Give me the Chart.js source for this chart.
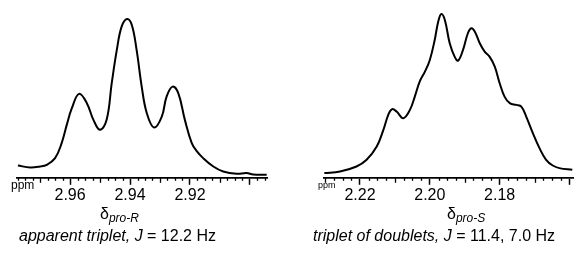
<!DOCTYPE html>
<html><head><meta charset="utf-8">
<script src="https://cdn.jsdelivr.net/npm/chart.js@4/dist/chart.umd.min.js"></script>
<style>
html,body{margin:0;padding:0;background:#fff;}
#wrap{position:relative;width:587px;height:256px;overflow:hidden;font-family:"Liberation Sans",Arial,sans-serif;color:#000;}
canvas{position:absolute;top:0;}
.t{position:absolute;line-height:1;white-space:nowrap;}
</style></head>
<body><div id="wrap">
<canvas id="cL" width="290" height="256" style="left:0;width:290px;height:256px"></canvas>
<canvas id="cR" width="297" height="256" style="left:290px;width:297px;height:256px"></canvas>
<div class="t" style="left:11px;top:179px;font-size:12px">ppm</div>
<div class="t" style="left:318px;top:181px;font-size:9px">ppm</div>
<div class="t" style="left:100px;top:206px;font-size:16px">δ<span style="font-size:12px;font-style:italic;position:relative;top:3px">pro-R</span></div>
<div class="t" style="left:447px;top:206px;font-size:16px">δ<span style="font-size:12px;font-style:italic;position:relative;top:3px">pro-S</span></div>
<div class="t" style="left:19px;top:228px;font-size:16px"><i>apparent triplet, J</i> = 12.2 Hz</div>
<div class="t" style="left:313px;top:228px;font-size:16px"><i>triplet of doublets, J</i> = 11.4, 7.0 Hz</div>
</div>
<script>
// Left spectrum (δ pro-R), ppm vs intensity
const ppmR = [2.9774,2.9733,2.9700,2.9678,2.9650,2.9628,2.9611,2.9594,2.9570,2.9544,2.9522,2.9500,2.9478,2.9461,2.9444,2.9428,2.9410,2.9394,2.9378,2.9361,2.9344,2.9320,2.9294,2.9278,2.9258,2.9239,2.9217,2.9194,2.9178,2.9156,2.9122,2.9089,2.9044,2.9011,2.8989,2.8944];
const intR = [12.3,10.3,11.3,13,19.7,34.7,53,69.7,84,74.7,58,48,58,94.7,128,151.3,159,153,128,91.3,64.7,50.3,61.3,81.3,91.3,84.7,58,34.7,27,19.7,11.3,6.3,4,4.7,3.3,3];
// Right spectrum (δ pro-S)
const ppmS = [2.2302,2.2257,2.2210,2.2181,2.2152,2.2133,2.2119,2.2108,2.2095,2.2076,2.2057,2.2043,2.2029,2.2014,2.2000,2.1986,2.1976,2.1967,2.1957,2.1943,2.1929,2.1919,2.1905,2.1891,2.1881,2.1871,2.1857,2.1843,2.1829,2.1814,2.1800,2.1786,2.1771,2.1752,2.1738,2.1724,2.1705,2.1686,2.1667,2.1648,2.1629,2.1592];
const intS = [4.7,6.3,11.3,18,31.3,48,63,68.7,66.3,59.7,68,81.3,96.3,106.3,118,138,156.3,164,158,134.7,121.3,117.3,128,144.7,149.7,146.3,134.7,126.3,121.3,111.3,94.7,81.3,74.7,73,71.3,61.3,44.7,29.7,18,12.3,9.7,8];
// Axis ticks
const majorR = [2.96,2.94,2.92,2.90];
const labelR = ["2.96","2.94","2.92",""];
const majorS = [2.22,2.20,2.18,2.16];
const labelS = ["2.22","2.20","2.18",""];
const rangeR = [2.8943,2.9777];
const rangeS = [2.1590,2.2303];
const minorStep = 0.0025;

const minorTicks = {
  id:'minorTicks',
  afterDraw(chart){
    const xs = chart.scales.x, ctx = chart.ctx;
    const y0 = xs.top;
    ctx.save();
    ctx.strokeStyle='#000'; ctx.lineWidth=1.3;
    const start = Math.ceil(xs.min/minorStep-1e-6), end = Math.floor(xs.max/minorStep+1e-6);
    for(let k=start;k<=end;k++){
      const v=k*minorStep;
      const n = Math.round(v*10000);
      if(n%200===0) continue; // major drawn by Chart.js
      const len = (n%100===0)?5:3;
      const px = Math.round(xs.getPixelForValue(v))+0.5;
      ctx.beginPath(); ctx.moveTo(px,y0); ctx.lineTo(px,y0+len); ctx.stroke();
    }
    ctx.restore();
  }
};

function make(id, xs, ys, majors, labels, range, padL, padR){
  const data = xs.map((x,i)=>({x:x,y:ys[i]}));
  return new Chart(document.getElementById(id),{
    type:'line',
    data:{datasets:[{data:data,borderColor:'#000',borderWidth:2,pointRadius:0,tension:0.4,fill:false,clip:false}]},
    options:{
      responsive:false,animation:false,
      layout:{padding:{left:padL,right:padR,top:0,bottom:49}},
      plugins:{legend:{display:false},tooltip:{enabled:false}},
      scales:{
        x:{type:'linear',reverse:true,min:range[0],max:range[1],
          afterBuildTicks:(s)=>{s.ticks=majors.map(v=>({value:v}));},
          grid:{display:true,drawOnChartArea:false,drawTicks:true,tickLength:7,tickWidth:1.5,tickColor:'#000'},
          border:{display:true,color:'#000',width:1.8},
          ticks:{autoSkip:false,maxRotation:0,padding:1.5,color:'#000',font:{family:'"Liberation Sans", Arial',size:16},
            callback:(v)=>{const i=majors.findIndex(m=>Math.abs(m-v)<1e-6);return i>=0?labels[i]:'';}}
        },
        y:{display:false,min:0,max:178}
      }
    },
    plugins:[minorTicks]
  });
}
make('cL', ppmR, intR, majorR, labelR, rangeR, 17, 23);
make('cR', ppmS, intS, majorS, labelS, rangeS, 34, 14);
</script>
</body></html>
